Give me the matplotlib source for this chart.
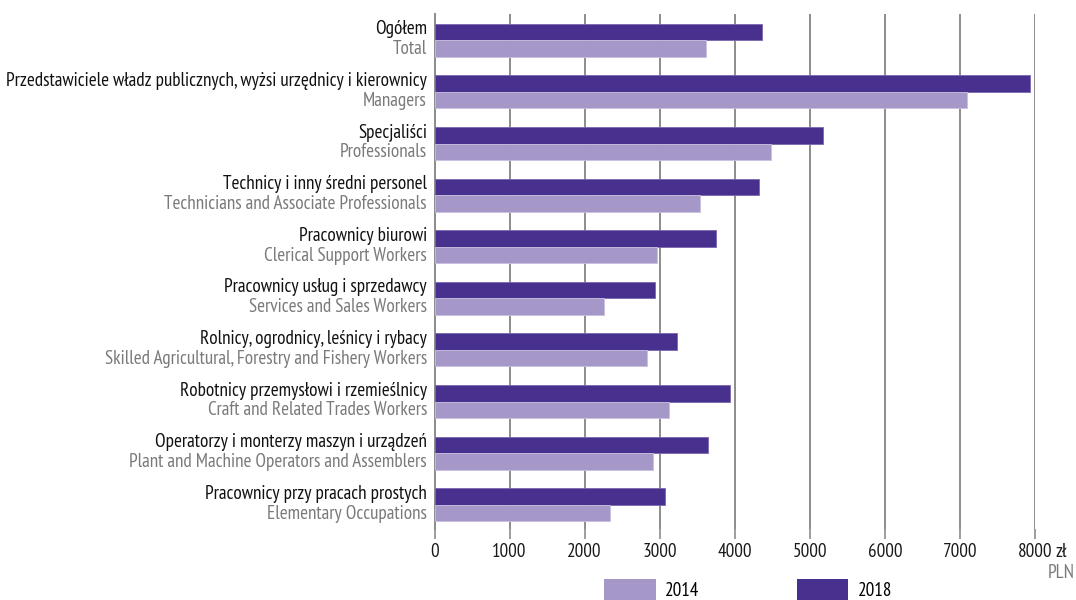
import matplotlib
matplotlib.use("Agg")
import matplotlib.pyplot as plt
from matplotlib.patches import Patch
from matplotlib.transforms import blended_transform_factory
import matplotlib.font_manager as fm

names = set(f.name for f in fm.fontManager.ttflist)
prefs = ['PT Sans Narrow', 'Fira Sans Condensed', 'Roboto Condensed', 'IBM Plex Sans Condensed',
         'Open Sans Condensed', 'Liberation Sans']
main = next((p for p in prefs if p in names), 'DejaVu Sans')
plt.rcParams['font.family'] = [main, 'DejaVu Sans']

labels_pl = [
    "Ogółem",
    "Przedstawiciele władz publicznych, wyżsi urzędnicy i kierownicy",
    "Specjaliści",
    "Technicy i inny średni personel",
    "Pracownicy biurowi",
    "Pracownicy usług i sprzedawcy",
    "Rolnicy, ogrodnicy, leśnicy i rybacy",
    "Robotnicy przemysłowi i rzemieślnicy",
    "Operatorzy i monterzy maszyn i urządzeń",
    "Pracownicy przy pracach prostych",
]
labels_en = [
    "Total",
    "Managers",
    "Professionals",
    "Technicians and Associate Professionals",
    "Clerical Support Workers",
    "Services and Sales Workers",
    "Skilled Agricultural, Forestry and Fishery Workers",
    "Craft and Related Trades Workers",
    "Plant and Machine Operators and Assemblers",
    "Elementary Occupations",
]
values_2014 = [3613, 7098, 4479, 3533, 2969, 2262, 2831, 3128, 2911, 2342]
values_2018 = [4367, 7934, 5180, 4319, 3750, 2938, 3235, 3937, 3644, 3075]
xticks = [0, 1000, 2000, 3000, 4000, 5000, 6000, 7000, 8000]
xticklabels = ["0", "1000", "2000", "3000", "4000", "5000", "6000", "7000", "8000"]
unit_label = "zł"
unit_label_2 = "PLN"

c2018 = "#48308e"
c2014 = "#a598c8"
grid_c = "#8c8c8c"

fig = plt.figure(figsize=(10.76, 6.0), dpi=100)
ax = fig.add_axes([434.5/1076, 1 - 529/600, (1035 - 434.5)/1076, (529 - 14)/600])

# choose font size so the longest label spans ~419 px like the reference
renderer = fig.canvas.get_renderer()
probe = fig.text(0, 0, labels_pl[1], fontsize=12)
w = probe.get_window_extent(renderer).width
probe.remove()
fs = 12 * 419.0 / w

y = list(range(len(labels_pl)))
h = 0.32
ax.barh([i - h/2 for i in y], values_2018, height=h, color=c2018, edgecolor="#7c68b0", linewidth=0.6, zorder=3, label="2018")
ax.barh([i + h/2 for i in y], values_2014, height=h, color=c2014, edgecolor="#c9c0e0", linewidth=0.6, zorder=3, label="2014")

ax.set_xlim(0, 8000)
ax.set_ylim(9.47, -0.51)
ax.set_xticks(xticks)
ax.set_xticklabels(xticklabels)
ax.set_yticks([])
ax.grid(axis="x", color=grid_c, linewidth=1.4, zorder=0)
for s in ["top", "right", "bottom"]:
    ax.spines[s].set_visible(False)
ax.spines["left"].set_color(grid_c)
ax.spines["left"].set_linewidth(1.4)
ax.tick_params(axis="x", length=7, width=1.2, color=grid_c, labelsize=fs, labelcolor="#1a1a1a", pad=3)

last_lbl = ax.get_xticklabels()[-1]
ax.annotate(unit_label, xy=(1, 0.5), xycoords=last_lbl, xytext=(2.5, 0), textcoords="offset points",
            ha="left", va="center", fontsize=fs, color="#1a1a1a")

tr = blended_transform_factory(fig.transFigure, ax.transData)
xl = 427/1076
for i in y:
    ax.text(xl, i - 0.21, labels_pl[i], transform=tr, ha="right", va="center", fontsize=fs, color="#111111")
    ax.text(xl, i + 0.17, labels_en[i], transform=tr, ha="right", va="center", fontsize=fs, color="#7a7a7a")

fig.text(1075/1076, 1 - 573/600, unit_label_2, ha="right", va="center", fontsize=fs, color="#7a7a7a")

handles = [Patch(facecolor=c2014), Patch(facecolor=c2018)]
leg = fig.legend(handles, ["2014", "2018"], loc="center left", bbox_to_anchor=(604/1076, 1 - 590/600),
                 ncol=2, frameon=False, fontsize=fs, handlelength=2.7, handleheight=1.4,
                 handletextpad=0.5, columnspacing=5.1, borderaxespad=0, borderpad=0)

fig.savefig("out.png", dpi=100)
